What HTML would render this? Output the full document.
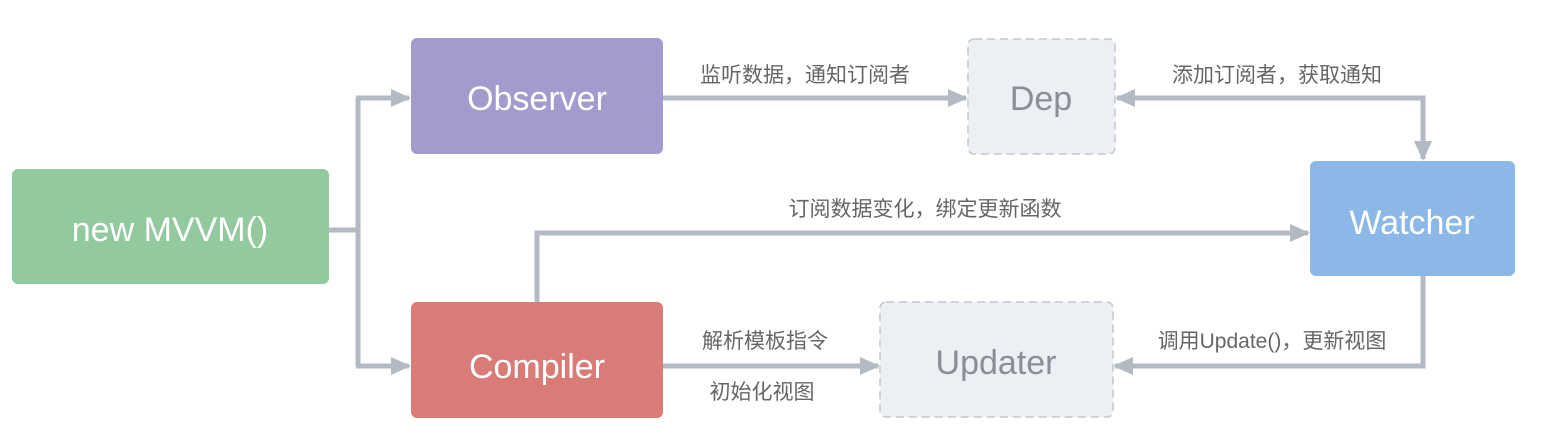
<!DOCTYPE html>
<html><head><meta charset="utf-8"><style>body{margin:0;background:#fff}svg{display:block}</style></head><body>
<svg width="1566" height="438" xmlns="http://www.w3.org/2000/svg" font-family="'Liberation Sans','Noto Sans CJK SC',sans-serif">
<defs>
<marker id="b" viewBox="0 0 20 20" refX="18" refY="10" markerWidth="20" markerHeight="20" orient="auto" markerUnits="userSpaceOnUse"><path d="M0,1 L20,10 L0,19z" fill="#b4bac3"/></marker></defs>
<g fill="none" stroke="#b4bac3" stroke-width="5">
<path d="M329,230 H358"/>
<path d="M358,98 V366"/>
<path d="M356,98 H409" marker-end="url(#b)"/>
<path d="M356,366 H409" marker-end="url(#b)"/>
<path d="M663,98 H966" marker-end="url(#b)"/>
<path d="M1423,159 V98 H1117" marker-end="url(#b)"/>
<path d="M1423,96 V159" marker-end="url(#b)"/>
<path d="M537,302 V233 H1308" marker-end="url(#b)"/>
<path d="M663,366 H878" marker-end="url(#b)"/>
<path d="M1423,276 V366 H1115" marker-end="url(#b)"/>
</g>
<rect x="12" y="169" width="317" height="115" rx="6" fill="#93c99e"/>
<rect x="411" y="38" width="252" height="116" rx="6" fill="#a39bcd"/>
<rect x="968" y="39" width="147" height="115" rx="6" fill="#eceff4" stroke="#c3c7cd" stroke-width="1.5" stroke-dasharray="8,5"/>
<rect x="1310" y="161" width="205" height="115" rx="6" fill="#8cb8e8"/>
<rect x="411" y="302" width="252" height="116" rx="6" fill="#d97c78"/>
<rect x="880" y="302" width="233" height="115" rx="6" fill="#eceff4" stroke="#c3c7cd" stroke-width="1.5" stroke-dasharray="8,5"/>
<g font-size="34" text-anchor="middle" fill="#fff">
<text x="170" y="241">new MVVM()</text>
<text x="537" y="110">Observer</text>
<text x="1412" y="234">Watcher</text>
<text x="537" y="378">Compiler</text>
<text x="1041" y="110" fill="#8a8f96">Dep</text>
<text x="996" y="374" fill="#8a8f96">Updater</text>
</g>
<g font-size="21" fill="#666" text-anchor="middle">
<text x="805" y="82">监听数据，通知订阅者</text>
<text x="1277" y="82">添加订阅者，获取通知</text>
<text x="925" y="216">订阅数据变化，绑定更新函数</text>
<text x="765" y="348">解析模板指令</text>
<text x="762" y="399">初始化视图</text>
<text x="1272" y="348">调用Update()，更新视图</text>
</g>
</svg>
</body></html>
